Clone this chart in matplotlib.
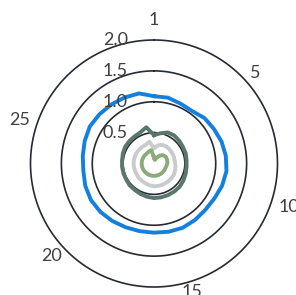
import matplotlib
matplotlib.use("Agg")
import matplotlib.pyplot as plt
import numpy as np

# 30 categories, clockwise from the top
categories = list(range(1, 31))
shown_labels = {1: "1", 5: "5", 10: "10", 15: "15", 20: "20", 25: "25"}

blue = [1.09, 1.09, 1.06, 1.05, 1.10, 1.12, 1.15, 1.17, 1.18, 1.16,
        1.13, 1.12, 1.13, 1.14, 1.13, 1.12, 1.12, 1.13, 1.15, 1.17,
        1.18, 1.17, 1.15, 1.16, 1.18, 1.20, 1.19, 1.18, 1.17, 1.16]
dark_green = [0.46, 0.50, 0.55, 0.56, 0.55, 0.54, 0.54, 0.53, 0.53, 0.54,
              0.55, 0.56, 0.56, 0.56, 0.56, 0.56, 0.55, 0.54, 0.53, 0.53,
              0.52, 0.52, 0.52, 0.52, 0.53, 0.54, 0.54, 0.54, 0.55, 0.60]
light_gray = [0.25, 0.30, 0.33, 0.34, 0.34, 0.34, 0.34, 0.34, 0.35, 0.36,
              0.37, 0.37, 0.37, 0.37, 0.37, 0.37, 0.36, 0.35, 0.34, 0.34,
              0.33, 0.33, 0.33, 0.33, 0.33, 0.33, 0.33, 0.33, 0.33, 0.36]
green = [0.10, 0.06, 0.10, 0.16, 0.20, 0.22, 0.22, 0.22, 0.21, 0.20,
         0.20, 0.20, 0.20, 0.20, 0.20, 0.20, 0.20, 0.20, 0.20, 0.20,
         0.20, 0.20, 0.20, 0.20, 0.20, 0.20, 0.20, 0.20, 0.21, 0.22]

ring_values = [0.5, 1.0, 1.5, 2.0]
ring_labels = ["0.5", "1.0", "1.5", "2.0"]

n = len(categories)
theta = np.arange(n) * 2 * np.pi / n
theta_c = np.append(theta, theta[0])


def closed(v):
    return np.append(v, v[0])


fig = plt.figure(figsize=(2.96, 2.95), dpi=100)
ax = fig.add_axes([0.1030, 0.0271, 0.8345, 0.8373], projection="polar")
ax.set_theta_zero_location("N")
ax.set_theta_direction(-1)
ax.set_ylim(0, 2.0)
ax.grid(False)
ax.spines["polar"].set_visible(False)
ax.set_xticks([])
ax.set_yticks([])
ax.patch.set_alpha(0)

# grid rings
t_ring = np.linspace(0, 2 * np.pi, 181)
for rv in ring_values:
    ax.plot(t_ring, np.full(t_ring.size, rv), color="#262a33", lw=1.2,
            clip_on=False, zorder=1)

ax.plot(theta_c, closed(blue), color="#1380e0", lw=2.8, zorder=3, clip_on=False)
ax.plot(theta_c, closed(dark_green), color="#5a776c", lw=2.8, zorder=4)
ax.plot(theta_c, closed(light_gray), color="#c9cbcc", lw=2.8, zorder=3)
ax.plot(theta_c, closed(green), color="#8bab7b", lw=2.8, zorder=5)

font = ["Lato", "DejaVu Sans"]

# category labels (the outer ones run off the edge, as in the original)
label_r = {1: 2.33, 5: 2.2, 10: 2.3, 15: 2.12, 20: 2.24, 25: 2.28}
label_ha = {15: "left"}
for k, lab in shown_labels.items():
    ax.text(theta[k - 1], label_r[k], lab, ha=label_ha.get(k, "center"),
            va="center", fontsize=13, color="#404040", family=font,
            clip_on=False)

# value axis labels, right aligned left of the vertical axis
trans = ax.transData
for rv, lab in zip(ring_values, ring_labels):
    x_disp, y_disp = trans.transform((0, rv))
    fx, fy = fig.transFigure.inverted().transform((x_disp - 26, y_disp))
    fig.text(fx, fy, lab, ha="right", va="center", fontsize=13,
             color="#404040", family=font)

fig.savefig("out.png", dpi=100)
